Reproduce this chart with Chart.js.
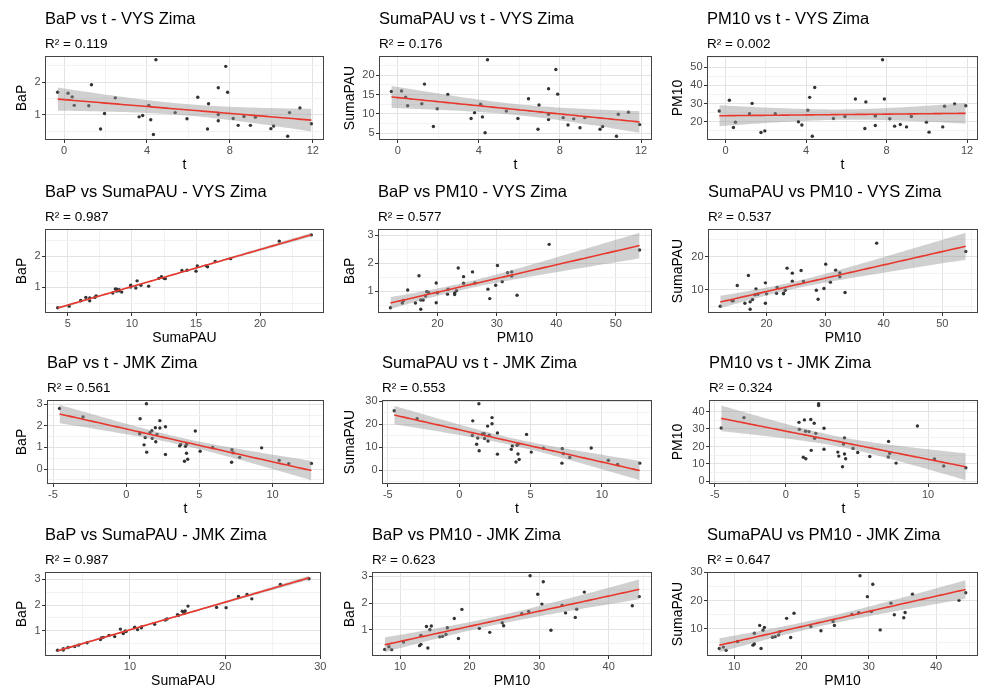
<!DOCTYPE html>
<html>
<head>
<meta charset="utf-8">
<title>Korelace - Zima</title>
<script src="https://cdn.jsdelivr.net/npm/chart.js@4.4.0/dist/chart.umd.min.js"></script>
<style>
  html, body { margin: 0; padding: 0; background: #fff; }
  body { width: 982px; height: 689px; position: relative; overflow: hidden; }
  canvas { position: absolute; }
</style>
</head>
<body>
<script>
// VYS Zima - one value per day (t = temperature)
var vysT = [-0.31, 0.19, 0.39, 0.49, 1.19, 1.32, 1.76, 1.95, 2.47, 3.62, 3.79, 4.09, 4.18, 4.31, 4.43, 5.36, 5.93, 6.45,
            6.92, 6.97, 7.44, 7.44, 7.44, 7.80, 7.89, 8.16, 8.40, 8.68, 8.99, 9.23, 9.98, 10.11, 10.79, 10.88, 11.38, 11.93];
var vysBaP = [1.69, 1.66, 1.55, 1.29, 1.28, 1.92, 0.57, 1.04, 1.52, 0.94, 0.98, 1.29, 0.85, 0.40, 2.68, 1.07, 0.88, 1.54,
              0.57, 1.34, 1.83, 1.01, 0.82, 2.48, 1.69, 0.89, 0.68, 0.95, 0.68, 0.93, 0.58, 0.66, 0.35, 1.07, 1.21, 0.73];
var vysSuma = [15.8, 15.9, 14.3, 12.1, 12.6, 17.7, 6.7, 11.3, 15.0, 8.8, 10.3, 12.5, 9.2, 5.1, 24.0, 10.7, 8.8, 13.9,
               6.0, 12.3, 16.5, 9.9, 8.5, 21.5, 15.1, 9.0, 7.1, 8.7, 6.4, 9.0, 6.0, 6.7, 4.2, 9.9, 10.4, 7.2];
var vysPM10 = [25.9, 31.8, 16.9, 19.8, 24.4, 30.1, 14.1, 15.0, 24.4, 20.0, 18.2, 26.3, 33.4, 12.1, 38.8, 21.8, 22.9, 32.5,
               16.3, 30.9, 23.5, 23.2, 18.0, 54.0, 32.5, 21.7, 17.6, 18.5, 17.2, 22.9, 19.8, 14.3, 17.2, 28.5, 29.8, 28.8];

// JMK Zima
var jmkT = [-4.55, -2.95, 0.92, 0.95, 1.22, 1.30, 1.40, 1.38, 1.62, 1.75, 1.78, 1.99, 2.10, 2.02, 2.30, 2.30, 2.68, 2.68,
            3.65, 3.72, 3.98, 4.12, 4.05, 4.12, 4.20, 4.72, 5.05, 5.90, 7.22, 7.20, 7.30, 7.75, 9.25, 10.45, 11.10, 12.65];
var jmkBaP = [2.80, 2.41, 1.63, 2.33, 1.12, 1.46, 0.78, 3.02, 1.68, 1.77, 1.42, 1.91, 1.60, 1.26, 2.24, 1.90, 1.96, 0.67,
              1.07, 1.14, 0.36, 1.15, 1.05, 0.73, 0.45, 1.76, 0.82, 1.00, 0.90, 0.31, 0.75, 0.54, 0.98, 0.40, 0.25, 0.26];
var jmkSuma = [25.8, 22.3, 15.0, 21.4, 11.2, 13.9, 8.4, 28.8, 15.7, 15.8, 13.7, 19.1, 15.1, 12.6, 22.8, 20.1, 16.1, 6.9,
               9.0, 10.5, 3.5, 11.2, 10.8, 7.0, 4.6, 15.5, 7.8, 9.5, 9.3, 3.0, 7.2, 5.5, 9.6, 4.2, 2.4, 3.0];
var jmkPM10 = [30.6, 36.5, 33.8, 29.8, 13.8, 35.2, 13.0, 28.7, 28.5, 35.4, 17.8, 33.3, 27.5, 24.7, 44.4, 43.4, 30.4, 18.4,
               16.8, 14.5, 8.4, 24.9, 21.4, 15.7, 13.0, 18.9, 16.6, 14.3, 22.9, 14.0, 16.1, 10.5, 31.7, 12.8, 8.8, 7.8];

// panels, row by row
var panelTitles = ['BaP vs t - VYS Zima', 'SumaPAU vs t - VYS Zima', 'PM10 vs t - VYS Zima',
                   'BaP vs SumaPAU - VYS Zima', 'BaP vs PM10 - VYS Zima', 'SumaPAU vs PM10 - VYS Zima',
                   'BaP vs t - JMK Zima', 'SumaPAU vs t - JMK Zima', 'PM10 vs t - JMK Zima',
                   'BaP vs SumaPAU - JMK Zima', 'BaP vs PM10 - JMK Zima', 'SumaPAU vs PM10 - JMK Zima'];
var panelR2 = ['0.119', '0.176', '0.002', '0.987', '0.577', '0.537', '0.561', '0.553', '0.324', '0.987', '0.623', '0.647'];
var panelX = [vysT, vysT, vysT, vysSuma, vysPM10, vysPM10, jmkT, jmkT, jmkT, jmkSuma, jmkPM10, jmkPM10];
var panelY = [vysBaP, vysSuma, vysPM10, vysBaP, vysBaP, vysSuma, jmkBaP, jmkSuma, jmkPM10, jmkBaP, jmkBaP, jmkSuma];
var xNames = ['t', 't', 't', 'SumaPAU', 'PM10', 'PM10', 't', 't', 't', 'SumaPAU', 'PM10', 'PM10'];
var yNames = ['BaP', 'SumaPAU', 'PM10', 'BaP', 'BaP', 'SumaPAU', 'BaP', 'SumaPAU', 'PM10', 'BaP', 'BaP', 'SumaPAU'];
var xTickVals = [[0, 4, 8, 12], [0, 4, 8, 12], [0, 4, 8, 12], [5, 10, 15, 20], [20, 30, 40, 50], [20, 30, 40, 50],
                 [-5, 0, 5, 10], [-5, 0, 5, 10], [-5, 0, 5, 10], [10, 20, 30], [10, 20, 30, 40], [10, 20, 30, 40]];
var yTickVals = [[1, 2], [5, 10, 15, 20], [20, 30, 40, 50], [1, 2], [1, 2, 3], [10, 20],
                 [0, 1, 2, 3], [0, 10, 20, 30], [0, 10, 20, 30, 40], [1, 2, 3], [1, 2, 3], [10, 20, 30]];

// layout
var colLeft = [0, 328, 656];
var colWidth = [328, 328, 326];
var colRightPad = [2, 1, 1];
var rowTop = [0, 173, 344, 516];
var canvasHeight = 174;
var xAxisHeight = 34;
var yAxisWidth = [45, 51, 51, 45, 50, 52, 47, 54, 53, 45, 44, 51];

var FONT = "'Liberation Sans', Arial, sans-serif";
var TQ = 2.032; // 95% t quantile, df = 34

Chart.defaults.font.family = FONT;

var panelBorder = {
    id: 'panelBorder',
    afterDatasetsDraw: function(chart) {
        var a = chart.chartArea, c = chart.ctx;
        c.save();
        c.strokeStyle = '#444';
        c.lineWidth = 1;
        c.strokeRect(Math.round(a.left) + 0.5, Math.round(a.top) + 0.5,
                     Math.round(a.right - a.left) - 1, Math.round(a.bottom - a.top) - 1);
        c.restore();
    }
};

function linFit(xs, ys) {
    var n = xs.length, mx = 0, my = 0, sxx = 0, sxy = 0, sse = 0, i;
    for (i = 0; i < n; i++) { mx += xs[i]; my += ys[i]; }
    mx /= n; my /= n;
    for (i = 0; i < n; i++) {
        sxx += (xs[i] - mx) * (xs[i] - mx);
        sxy += (xs[i] - mx) * (ys[i] - my);
    }
    var b = sxy / sxx, a = my - b * mx;
    for (i = 0; i < n; i++) {
        var r = ys[i] - a - b * xs[i];
        sse += r * r;
    }
    return { a: a, b: b, s: Math.sqrt(sse / (n - 2)), n: n, mx: mx, sxx: sxx };
}

function axisOpts(min, max, majors, title, isX, size) {
    var step = majors[1] - majors[0];
    var all = majors.slice();
    majors.forEach(function(v) { all.push(v - step / 2); });
    all.push(majors[majors.length - 1] + step / 2);
    all = all.filter(function(v) { return v >= min && v <= max; }).sort(function(p, q) { return p - q; });
    function isMajor(v) {
        return majors.some(function(m) { return Math.abs(m - v) < 1e-9; });
    }
    return {
        type: 'linear',
        min: min,
        max: max,
        afterBuildTicks: function(s) { s.ticks = all.map(function(v) { return { value: v }; }); },
        afterFit: function(s) { if (isX) s.height = size; else s.width = size; },
        ticks: {
            autoSkip: false,
            maxRotation: 0,
            padding: 1.5,
            color: '#4d4d4d',
            font: { size: 11 },
            callback: function(v) { return isMajor(v) ? String(v) : ''; }
        },
        grid: {
            lineWidth: 1,
            tickLength: 3,
            color: function(c) { return c.tick && isMajor(c.tick.value) ? '#e3e3e3' : '#f2f2f2'; },
            tickColor: function(c) { return c.tick && isMajor(c.tick.value) ? '#333' : 'rgba(0,0,0,0)'; }
        },
        border: { display: false },
        title: {
            display: true,
            text: title,
            color: '#000',
            font: { size: 14 },
            padding: isX ? { top: 0, bottom: 0.6 } : { top: 13.5, bottom: 0 }
        }
    };
}

function drawPanel(i) {
    var col = i % 3, row = Math.floor(i / 3);
    var cv = document.createElement('canvas');
    cv.width = colWidth[col];
    cv.height = canvasHeight;
    cv.style.left = colLeft[col] + 'px';
    cv.style.top = rowTop[row] + 'px';
    document.body.appendChild(cv);

    var xs = panelX[i], ys = panelY[i];
    var fit = linFit(xs, ys);
    var xmin = Math.min.apply(null, xs), xmax = Math.max.apply(null, xs);
    var fitPts = [], upper = [], lower = [];
    for (var k = 0; k < 80; k++) {
        var x = xmin + (xmax - xmin) * k / 79;
        var yh = fit.a + fit.b * x;
        var se = fit.s * Math.sqrt(1 / fit.n + (x - fit.mx) * (x - fit.mx) / fit.sxx);
        fitPts.push({ x: x, y: yh });
        upper.push({ x: x, y: yh + TQ * se });
        lower.push({ x: x, y: yh - TQ * se });
    }
    var pts = xs.map(function(v, j) { return { x: v, y: ys[j] }; });

    var ylo = Math.min(Math.min.apply(null, ys), Math.min.apply(null, lower.map(function(p) { return p.y; })));
    var yhi = Math.max(Math.max.apply(null, ys), Math.max.apply(null, upper.map(function(p) { return p.y; })));
    var dx = (xmax - xmin) * 0.05, dy = (yhi - ylo) * 0.05;

    new Chart(cv.getContext('2d'), {
        type: 'scatter',
        data: {
            datasets: [{
                type: 'line',
                data: upper,
                borderWidth: 0,
                pointRadius: 0,
                fill: '+1',
                backgroundColor: 'rgba(150,150,150,0.45)',
                order: 2
            }, {
                type: 'line',
                data: lower,
                borderWidth: 0,
                pointRadius: 0,
                fill: false,
                order: 2
            }, {
                type: 'scatter',
                data: pts,
                pointRadius: 1.7,
                backgroundColor: '#333',
                borderWidth: 0,
                order: 3
            }, {
                type: 'line',
                data: fitPts,
                borderColor: '#e8372c',
                borderWidth: 1.6,
                pointRadius: 0,
                fill: false,
                order: 1
            }]
        },
        options: {
            responsive: false,
            animation: false,
            events: [],
            layout: { padding: { left: 0, right: colRightPad[col], top: 0, bottom: 0 } },
            scales: {
                x: axisOpts(xmin - dx, xmax + dx, xTickVals[i], xNames[i], true, xAxisHeight),
                y: axisOpts(ylo - dy, yhi + dy, yTickVals[i], yNames[i], false, yAxisWidth[i])
            },
            plugins: {
                legend: { display: false },
                tooltip: { enabled: false },
                title: {
                    display: true,
                    text: panelTitles[i],
                    align: 'start',
                    fullSize: false,
                    color: '#000',
                    font: { size: 16.5, weight: 'normal' },
                    padding: { top: 10, bottom: 4 }
                },
                subtitle: {
                    display: true,
                    text: 'R\u00b2 = ' + panelR2[i],
                    align: 'start',
                    fullSize: false,
                    color: '#000',
                    font: { size: 13.5 },
                    padding: { top: 2.6, bottom: 3.4 }
                }
            }
        },
        plugins: [panelBorder]
    });
}

window.onload = function() {
    for (var i = 0; i < panelTitles.length; i++) {
        drawPanel(i);
    }
};
</script>
</body>
</html>
